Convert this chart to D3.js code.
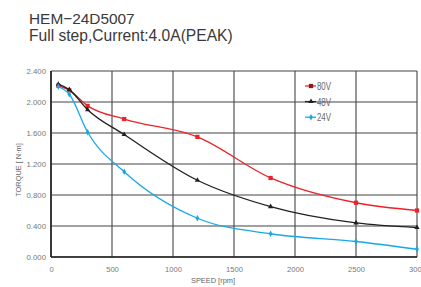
<!DOCTYPE html>
<html>
<head>
<meta charset="utf-8">
<script src="https://cdn.jsdelivr.net/npm/d3@7"></script>
<style>
  body { margin: 0; background: #fff; }
  text { font-family: "Liberation Sans", Arial, sans-serif; }
</style>
</head>
<body>
<svg id="chart"></svg>
<script>
// Chart size
const WIDTH = 421;
const HEIGHT = 287;

// Data
const speeds80 = [60, 150, 300, 600, 1200, 1800, 2500, 3000];
const torque80 = [2.21, 2.15, 1.95, 1.78, 1.55, 1.02, 0.70, 0.60];

const speeds48 = [60, 150, 300, 600, 1200, 1800, 2500, 3000];
const torque48 = [2.23, 2.16, 1.90, 1.58, 0.99, 0.65, 0.44, 0.38];

const speeds24 = [60, 150, 300, 600, 1200, 1800, 2500, 3000];
const torque24 = [2.20, 2.10, 1.61, 1.10, 0.50, 0.30, 0.20, 0.10];

const seriesNames = ['80V', '48V', '24V'];
const xTicks = [0, 500, 1000, 1500, 2000, 2500, 3000];
const yTicks = [0, 0.4, 0.8, 1.2, 1.6, 2.0, 2.4];

const RED = '#ec2229';
const BLACK = '#231f20';
const BLUE = '#17a9e6';

const svg = d3.select('svg#chart').attr('width', WIDTH).attr('height', HEIGHT);

// Plot area
const x = d3.scaleLinear().domain([0, 3000]).range([51, 417]);
const y = d3.scaleLinear().domain([0, 2.4]).range([257, 71]);

// Titles
svg.append('text').attr('x', 29).attr('y', 24)
    .attr('font-size', 15.4).attr('fill', '#3a3a3a').text('HEM\u221224D5007');
svg.append('text').attr('x', 29).attr('y', 40.5)
    .attr('font-size', 15.6).attr('fill', '#3a3a3a').text('Full step,Current:4.0A(PEAK)');

// Grid
const grid = svg.append('g');
grid.selectAll('line.v').data(xTicks).enter().append('line')
    .attr('x1', d => x(d)).attr('x2', d => x(d))
    .attr('y1', y(2.4)).attr('y2', y(0))
    .attr('stroke', '#444').attr('stroke-width', 1.1);
grid.selectAll('line.h').data(yTicks).enter().append('line')
    .attr('x1', x(0)).attr('x2', x(3000))
    .attr('y1', d => y(d)).attr('y2', d => y(d))
    .attr('stroke', '#444').attr('stroke-width', 1.1);

// Axes frame (left + bottom darker)
svg.append('line').attr('x1', x(0)).attr('x2', x(0)).attr('y1', y(2.4)).attr('y2', y(0))
    .attr('stroke', '#222').attr('stroke-width', 1.6);
svg.append('line').attr('x1', x(0)).attr('x2', x(3000)).attr('y1', y(0)).attr('y2', y(0))
    .attr('stroke', '#222').attr('stroke-width', 1.6);

// Tick labels
const xAxis = d3.axisBottom(x).tickValues(xTicks).tickSize(0).tickPadding(10).tickFormat(d3.format('d'));
svg.append('g').attr('transform', `translate(0,${y(0)})`).call(xAxis)
    .call(g => g.select('.domain').remove())
    .selectAll('text').attr('font-size', 7.6).attr('fill', '#777')
    .attr('font-family', '"Liberation Sans", Arial, sans-serif');

const yAxis = d3.axisLeft(y).tickValues(yTicks).tickSize(0).tickPadding(5).tickFormat(d3.format('.3f'));
svg.append('g').attr('transform', `translate(${x(0)},0)`).call(yAxis)
    .call(g => g.select('.domain').remove())
    .selectAll('text').attr('font-size', 7.8).attr('fill', '#777')
    .attr('font-family', '"Liberation Sans", Arial, sans-serif');

// Axis titles
svg.append('text').attr('x', 213).attr('y', 283).attr('text-anchor', 'middle')
    .attr('font-size', 7.4).attr('fill', '#666').text('SPEED [rpm]');
svg.append('text').attr('transform', 'translate(21,170) rotate(-90)').attr('text-anchor', 'middle')
    .attr('font-size', 7.4).attr('fill', '#666').text('TORQUE [ N\u00b7m]');

// Series
const series = [
    {name: seriesNames[0], xs: speeds80, ys: torque80, color: RED, marker: d3.symbolSquare, size: 18},
    {name: seriesNames[1], xs: speeds48, ys: torque48, color: BLACK, marker: d3.symbolTriangle, size: 12},
    {name: seriesNames[2], xs: speeds24, ys: torque24, color: BLUE, marker: d3.symbolDiamond, size: 12}
];

const line = d3.line().x(d => x(d[0])).y(d => y(d[1])).curve(d3.curveMonotoneX);

series.forEach(s => {
    const pts = s.xs.map((v, i) => [v, s.ys[i]]);
    svg.append('path').datum(pts).attr('d', line)
        .attr('fill', 'none').attr('stroke', s.color).attr('stroke-width', 1.3);
    svg.append('g').selectAll('path').data(pts).enter().append('path')
        .attr('transform', d => `translate(${x(d[0])},${y(d[1])})`)
        .attr('d', d3.symbol().type(s.marker).size(s.size))
        .attr('fill', s.color);
});

// Legend
const legend = svg.append('g').attr('transform', 'translate(305,86)');
series.forEach((s, i) => {
    const g = legend.append('g').attr('transform', `translate(0,${i * 15.6})`);
    g.append('line').attr('x1', 0).attr('x2', 11).attr('y1', 0).attr('y2', 0)
        .attr('stroke', s.color).attr('stroke-width', 1.3);
    g.append('path').attr('transform', 'translate(6,0)')
        .attr('d', d3.symbol().type(s.marker).size(s.size))
        .attr('fill', i === 0 ? '#8b1a1a' : s.color);
    g.append('text').attr('x', 12).attr('y', 3.9).attr('font-size', 10.5)
        .attr('textLength', 14).attr('lengthAdjust', 'spacingAndGlyphs')
        .attr('fill', '#666').text(s.name);
});
</script>
</body>
</html>
